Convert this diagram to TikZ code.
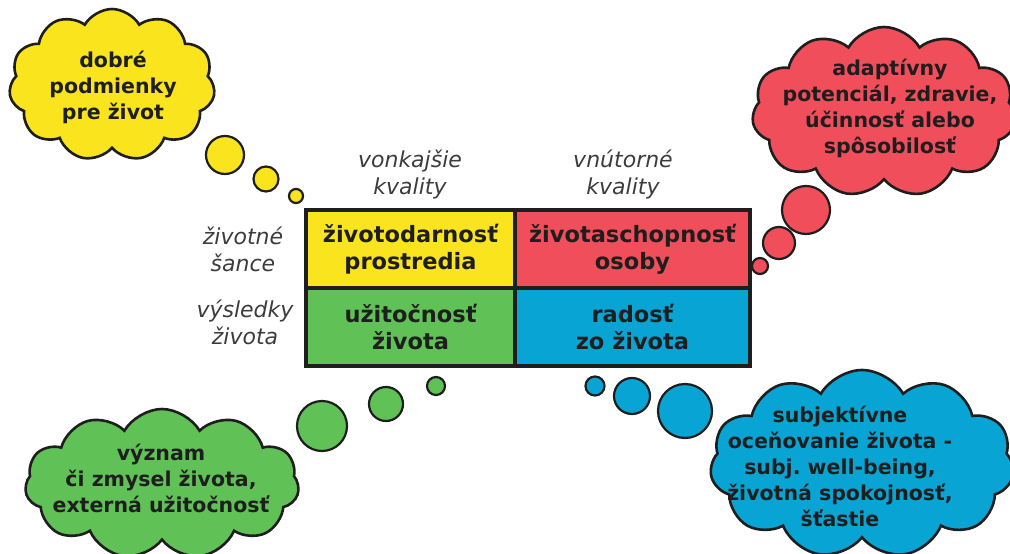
\documentclass[tikz,border=0pt]{standalone}
\usepackage{fontspec}
\setmainfont{DejaVu Sans}
\frenchspacing
\usetikzlibrary{shapes.symbols}
\definecolor{cyel}{RGB}{250,228,30}
\definecolor{cred}{RGB}{240,78,90}
\definecolor{cgrn}{RGB}{96,194,86}
\definecolor{cblu}{RGB}{8,164,212}
\definecolor{ctxt}{RGB}{30,30,30}
\definecolor{clab}{RGB}{60,60,60}
\tikzset{
  cell/.style={draw=ctxt, line width=4pt, minimum width=#1, minimum height=78pt, inner sep=0pt, anchor=north west},
  celltext/.style={font=\fontsize{22.5}{27}\selectfont\bfseries, text=ctxt, align=center},
  lab/.style={font=\fontsize{22}{27}\selectfont\itshape, text=clab, align=center},
  cloudbox/.style={cloud, cloud puffs=11, cloud puff arc=120, cloud ignores aspect, draw=ctxt, line width=2.6pt, inner sep=0pt},
  cloudtext/.style={font=\fontsize{20.5}{26}\selectfont\bfseries, text=ctxt, align=center},
  bubble/.style={circle, draw=ctxt, line width=2.2pt, inner sep=0pt, minimum size=#1}
}
\begin{document}
\begin{tikzpicture}[x=1pt,y=-1pt]
\useasboundingbox (0,0) rectangle (1010,554);
% yellow cloud
\node[cloudbox, fill=cyel, minimum width=206pt, minimum height=152pt] (yc) at (112,85) {};
\node[cloudtext] (yt) at (113,87) {dobré\\podmienky\\pre život};
\node[bubble=38pt, fill=cyel] (yb1) at (225,155) {};
\node[bubble=25pt, fill=cyel] (yb2) at (266,179) {};
\node[bubble=14pt, fill=cyel] (yb3) at (296,196) {};
% red cloud
\node[bubble=48pt, fill=cred] (rb1) at (806,210) {};
\node[cloudbox, fill=cred, minimum width=264pt, minimum height=170pt] (rc) at (884,112) {};
\node[bubble=32pt, fill=cred] (rb2) at (779,243) {};
\node[bubble=16pt, fill=cred] (rb3) at (760,266) {};
\node[cloudtext] (rt) at (890,108) {adaptívny\\potenciál, zdravie,\\účinnosť alebo\\spôsobilosť};
% green cloud
\node[cloudbox, fill=cgrn, minimum width=274pt, minimum height=150pt] (gc) at (162,484) {};
\node[cloudtext] (gt) at (161,478) {význam\\či zmysel života,\\externá užitočnosť};
\node[bubble=50pt, fill=cgrn] (gb1) at (322,426) {};
\node[bubble=34pt, fill=cgrn] (gb2) at (386,404) {};
\node[bubble=18pt, fill=cgrn] (gb3) at (436,386) {};
% blue cloud
\node[bubble=19pt, fill=cblu] (bb3) at (595,386) {};
\node[bubble=36pt, fill=cblu] (bb2) at (632,396) {};
\node[bubble=54pt, fill=cblu] (bb1) at (685,411) {};
\node[cloudbox, fill=cblu, minimum width=304pt, minimum height=188pt] (bc) at (862,464) {};
\node[cloudtext] (bt) at (840,466) {subjektívne\\oceňovanie života -\\subj. well-being,\\životná spokojnosť,\\šťastie};
% grid
\node[cell=209pt, fill=cyel] (c11) at (304,208) {};
\node[cell=235pt, fill=cred] (c12) at (513,208) {};
\node[cell=209pt, fill=cgrn] (c21) at (304,286) {};
\node[cell=235pt, fill=cblu] (c22) at (513,286) {};
\node[celltext] at (c11.center) (t11) {životodarnosť\\prostredia};
\node[celltext] at (c12.center) (t12) {životaschopnosť\\osoby};
\node[celltext] at (c21.center) (t21) {užitočnosť\\života};
\node[celltext] at (c22.center) (t22) {radosť\\zo života};
% labels
\node[lab] (l1) at (410,174) {vonkajšie\\kvality};
\node[lab] (l2) at (623,174) {vnútorné\\kvality};
\node[lab] (l3) at (243,249) {životné\\šance};
\node[lab] (l4) at (245,322) {výsledky\\života};
\end{tikzpicture}
\end{document}
